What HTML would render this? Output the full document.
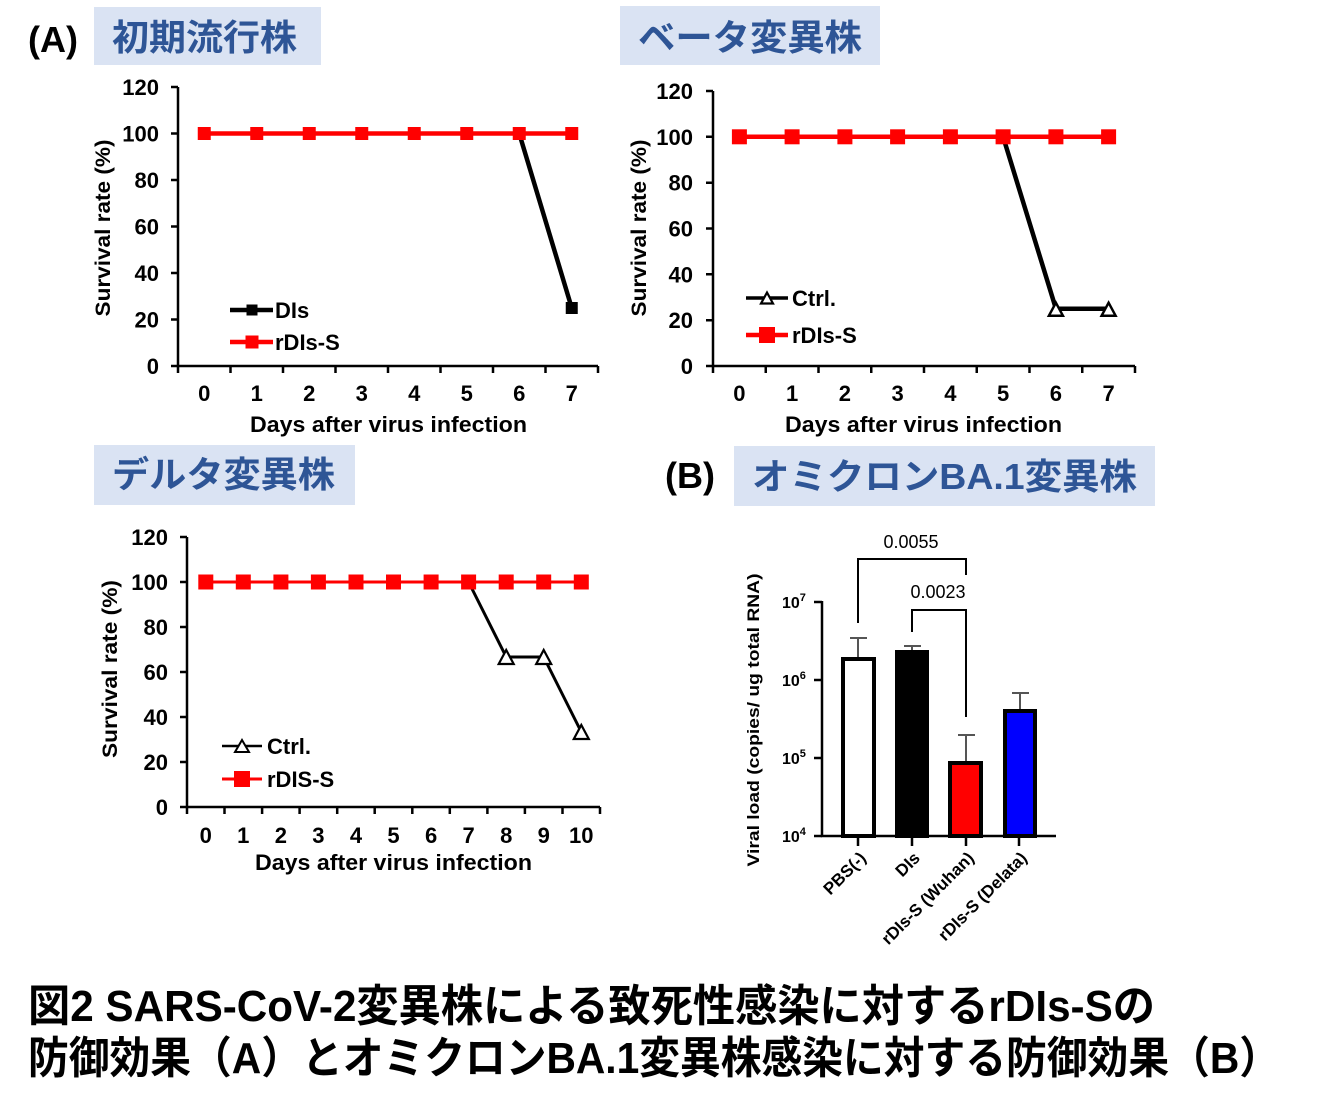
<!DOCTYPE html>
<html><head><meta charset="utf-8"><style>
html,body{margin:0;padding:0;background:#fff;}
svg{display:block}
text{font-family:"Liberation Sans","Noto Sans CJK JP",sans-serif;}
.t{font-weight:bold;font-size:22px;fill:#000}
.ttl{font-weight:bold;font-size:36px;fill:#2e5596}
</style></head><body>
<svg width="1330" height="1110" viewBox="0 0 1330 1110" xmlns="http://www.w3.org/2000/svg">
<rect width="1330" height="1110" fill="#fff"/>

<!-- Titles -->
<text x="28" y="52" font-size="36" font-weight="bold" textLength="50" lengthAdjust="spacingAndGlyphs">(A)</text>
<rect x="94" y="7" width="227" height="58" fill="#dae3f3"/>
<text class="ttl" x="112" y="50" textLength="185" lengthAdjust="spacingAndGlyphs">初期流行株</text>

<rect x="620" y="6" width="260" height="59" fill="#dae3f3"/>
<text class="ttl" x="638" y="50" textLength="224" lengthAdjust="spacingAndGlyphs">ベータ変異株</text>

<rect x="94" y="445" width="261" height="60" fill="#dae3f3"/>
<text class="ttl" x="112" y="487" textLength="223" lengthAdjust="spacingAndGlyphs">デルタ変異株</text>

<text x="665" y="488" font-size="36" font-weight="bold" textLength="50" lengthAdjust="spacingAndGlyphs">(B)</text>
<rect x="734" y="446" width="421" height="60" fill="#dae3f3"/>
<text class="ttl" x="752" y="489" textLength="385" lengthAdjust="spacingAndGlyphs">オミクロンBA.1変異株</text>

<!-- ============ Chart 1 (top-left) ============ -->
<g stroke="#000" stroke-width="2.5" fill="none">
<path d="M178,87 V366 H598"/>
<path d="M171,366H178 M171,319.5H178 M171,273H178 M171,226.5H178 M171,180H178 M171,133.5H178 M171,87H178"/>
<path d="M178,366V373 M230.5,366V373 M283,366V373 M335.5,366V373 M388,366V373 M440.5,366V373 M493,366V373 M545.5,366V373 M598,366V373"/>
</g>
<g text-anchor="end">
<text class="t" x="159" y="374">0</text>
<text class="t" x="159" y="327.5">20</text>
<text class="t" x="159" y="281">40</text>
<text class="t" x="159" y="234.5">60</text>
<text class="t" x="159" y="188">80</text>
<text class="t" x="159" y="141.5">100</text>
<text class="t" x="159" y="95">120</text>
</g>
<g text-anchor="middle">
<text class="t" x="204.25" y="401">0</text>
<text class="t" x="256.75" y="401">1</text>
<text class="t" x="309.25" y="401">2</text>
<text class="t" x="361.75" y="401">3</text>
<text class="t" x="414.25" y="401">4</text>
<text class="t" x="466.75" y="401">5</text>
<text class="t" x="519.25" y="401">6</text>
<text class="t" x="571.75" y="401">7</text>
<text class="t" x="388.5" y="432" textLength="277" lengthAdjust="spacingAndGlyphs">Days after virus infection</text>
</g>
<text transform="translate(103,228) rotate(-90)" x="0" y="7" text-anchor="middle" font-size="21" font-weight="bold" textLength="177" lengthAdjust="spacingAndGlyphs">Survival rate (%)</text>
<path d="M519.25,133.5 L571.75,308" stroke="#000" stroke-width="4.5" fill="none"/>
<rect x="565.75" y="302" width="12" height="12" fill="#000"/>
<path d="M204.25,133.5 H571.75" stroke="#ff0000" stroke-width="4.5"/>
<g fill="#ff0000">
<rect x="197.75" y="127" width="13" height="13"/>
<rect x="250.25" y="127" width="13" height="13"/>
<rect x="302.75" y="127" width="13" height="13"/>
<rect x="355.25" y="127" width="13" height="13"/>
<rect x="407.75" y="127" width="13" height="13"/>
<rect x="460.25" y="127" width="13" height="13"/>
<rect x="512.75" y="127" width="13" height="13"/>
<rect x="565.25" y="127" width="13" height="13"/>
</g>
<path d="M230,310 H273" stroke="#000" stroke-width="4.5"/>
<rect x="246.5" y="304.5" width="11" height="11" fill="#000"/>
<text class="t" x="275" y="318">DIs</text>
<path d="M230,342 H273" stroke="#ff0000" stroke-width="4.5"/>
<rect x="245.5" y="335.5" width="13" height="13" fill="#ff0000"/>
<text class="t" x="275" y="350">rDIs-S</text>

<!-- ============ Chart 2 (top-right) ============ -->
<g stroke="#000" stroke-width="2.5" fill="none">
<path d="M713,91 V366 H1135"/>
<path d="M706,366H713 M706,320.2H713 M706,274.3H713 M706,228.5H713 M706,182.7H713 M706,136.8H713 M706,91H713"/>
<path d="M713,366V373 M765.75,366V373 M818.5,366V373 M871.25,366V373 M924,366V373 M976.75,366V373 M1029.5,366V373 M1082.25,366V373 M1135,366V373"/>
</g>
<g text-anchor="end">
<text class="t" x="693" y="374">0</text>
<text class="t" x="693" y="328.2">20</text>
<text class="t" x="693" y="282.3">40</text>
<text class="t" x="693" y="236.5">60</text>
<text class="t" x="693" y="190.7">80</text>
<text class="t" x="693" y="144.8">100</text>
<text class="t" x="693" y="99">120</text>
</g>
<g text-anchor="middle">
<text class="t" x="739.4" y="401">0</text>
<text class="t" x="792.1" y="401">1</text>
<text class="t" x="844.9" y="401">2</text>
<text class="t" x="897.6" y="401">3</text>
<text class="t" x="950.4" y="401">4</text>
<text class="t" x="1003.1" y="401">5</text>
<text class="t" x="1055.9" y="401">6</text>
<text class="t" x="1108.6" y="401">7</text>
<text class="t" x="923.5" y="432" textLength="277" lengthAdjust="spacingAndGlyphs">Days after virus infection</text>
</g>
<text transform="translate(639,228) rotate(-90)" x="0" y="7" text-anchor="middle" font-size="21" font-weight="bold" textLength="177" lengthAdjust="spacingAndGlyphs">Survival rate (%)</text>
<path d="M1003.1,136.8 L1055.9,308.7 H1108.6" stroke="#000" stroke-width="4.5" fill="none" stroke-linejoin="round"/>
<path d="M739.4,136.8 H1108.6" stroke="#ff0000" stroke-width="4.5"/>
<g fill="#ff0000">
<rect x="731.9" y="129.3" width="15" height="15"/>
<rect x="784.6" y="129.3" width="15" height="15"/>
<rect x="837.4" y="129.3" width="15" height="15"/>
<rect x="890.1" y="129.3" width="15" height="15"/>
<rect x="942.9" y="129.3" width="15" height="15"/>
<rect x="995.6" y="129.3" width="15" height="15"/>
<rect x="1048.4" y="129.3" width="15" height="15"/>
<rect x="1101.1" y="129.3" width="15" height="15"/>
</g>
<g fill="#fff" stroke="#000" stroke-width="2.5" stroke-linejoin="miter">
<path d="M1048.9,315.7 H1062.9 L1055.9,302.7 Z"/>
<path d="M1101.6,315.7 H1115.6 L1108.6,302.7 Z"/>
</g>
<path d="M746,298 H788" stroke="#000" stroke-width="3.5"/>
<path d="M761,303.5 H773 L767,292.5 Z" fill="#fff" stroke="#000" stroke-width="2.2"/>
<text class="t" x="792" y="306">Ctrl.</text>
<path d="M746,335 H788" stroke="#ff0000" stroke-width="4.5"/>
<rect x="759" y="327" width="16" height="16" fill="#ff0000"/>
<text class="t" x="792" y="343">rDIs-S</text>

<!-- ============ Chart 3 (bottom-left) ============ -->
<g stroke="#000" stroke-width="2.5" fill="none">
<path d="M187,537 V807 H600"/>
<path d="M180,807H187 M180,762H187 M180,717H187 M180,672H187 M180,627H187 M180,582H187 M180,537H187"/>
<path d="M187,807V814 M224.5,807V814 M262.1,807V814 M299.6,807V814 M337.2,807V814 M374.7,807V814 M412.3,807V814 M449.8,807V814 M487.4,807V814 M524.9,807V814 M562.5,807V814 M600,807V814"/>
</g>
<g text-anchor="end">
<text class="t" x="168" y="815">0</text>
<text class="t" x="168" y="770">20</text>
<text class="t" x="168" y="725">40</text>
<text class="t" x="168" y="680">60</text>
<text class="t" x="168" y="635">80</text>
<text class="t" x="168" y="590">100</text>
<text class="t" x="168" y="545">120</text>
</g>
<g text-anchor="middle">
<text class="t" x="205.8" y="843">0</text>
<text class="t" x="243.3" y="843">1</text>
<text class="t" x="280.9" y="843">2</text>
<text class="t" x="318.4" y="843">3</text>
<text class="t" x="356" y="843">4</text>
<text class="t" x="393.5" y="843">5</text>
<text class="t" x="431.1" y="843">6</text>
<text class="t" x="468.6" y="843">7</text>
<text class="t" x="506.2" y="843">8</text>
<text class="t" x="543.7" y="843">9</text>
<text class="t" x="581.3" y="843">10</text>
<text class="t" x="393.5" y="870" textLength="277" lengthAdjust="spacingAndGlyphs">Days after virus infection</text>
</g>
<text transform="translate(110,669) rotate(-90)" x="0" y="7" text-anchor="middle" font-size="21" font-weight="bold" textLength="178" lengthAdjust="spacingAndGlyphs">Survival rate (%)</text>
<path d="M468.6,582 L506.2,657 H543.7 L581.3,732" stroke="#000" stroke-width="3" fill="none" stroke-linejoin="round"/>
<path d="M205.8,582 H581.3" stroke="#ff0000" stroke-width="3"/>
<g fill="#ff0000">
<rect x="198.3" y="574.5" width="15" height="15"/>
<rect x="235.8" y="574.5" width="15" height="15"/>
<rect x="273.4" y="574.5" width="15" height="15"/>
<rect x="310.9" y="574.5" width="15" height="15"/>
<rect x="348.5" y="574.5" width="15" height="15"/>
<rect x="386" y="574.5" width="15" height="15"/>
<rect x="423.6" y="574.5" width="15" height="15"/>
<rect x="461.1" y="574.5" width="15" height="15"/>
<rect x="498.7" y="574.5" width="15" height="15"/>
<rect x="536.2" y="574.5" width="15" height="15"/>
<rect x="573.8" y="574.5" width="15" height="15"/>
</g>
<g fill="#fff" stroke="#000" stroke-width="2.2">
<path d="M498.7,664 H513.7 L506.2,650 Z"/>
<path d="M536.2,664 H551.2 L543.7,650 Z"/>
<path d="M573.8,739 H588.8 L581.3,725 Z"/>
</g>
<path d="M222,746 H262" stroke="#000" stroke-width="2.5"/>
<path d="M235,752 H249 L242,740 Z" fill="#fff" stroke="#000" stroke-width="2"/>
<text class="t" x="267" y="754">Ctrl.</text>
<path d="M222,779 H262" stroke="#ff0000" stroke-width="3"/>
<rect x="234" y="771" width="16" height="16" fill="#ff0000"/>
<text class="t" x="267" y="787">rDIS-S</text>

<!-- ============ Bar chart (B) ============ -->
<text transform="translate(753,720) rotate(-90)" x="0" y="6" text-anchor="middle" font-size="17" font-weight="bold" textLength="293" lengthAdjust="spacingAndGlyphs">Viral load (copies/ ug total RNA)</text>
<g font-size="16" font-weight="bold">
<text x="782" y="608">10<tspan font-size="11" dy="-7">7</tspan></text>
<text x="782" y="686">10<tspan font-size="11" dy="-7">6</tspan></text>
<text x="782" y="764">10<tspan font-size="11" dy="-7">5</tspan></text>
<text x="782" y="842">10<tspan font-size="11" dy="-7">4</tspan></text>
</g>
<!-- error bars -->
<g stroke="#555" stroke-width="2" fill="none">
<path d="M858,659 V638 M850,638 H867"/>
<path d="M912,651 V646 M904,646 H921"/>
<path d="M966,762 V735 M958,735 H975"/>
<path d="M1020,711 V693 M1012,693 H1029"/>
</g>
<!-- bars -->
<g stroke="#000" stroke-width="4">
<rect x="843" y="659" width="31" height="177" fill="#fff"/>
<rect x="897" y="652" width="30" height="184" fill="#000"/>
<rect x="950" y="763" width="31" height="73" fill="#ff0000"/>
<rect x="1005" y="711" width="30" height="125" fill="#0000ff"/>
</g>
<g stroke="#000" stroke-width="2.5" fill="none">
<path d="M822,601 V836 H1056"/>
<path d="M814,602H822 M814,680H822 M814,758H822 M814,836H822"/>
<path d="M858,836V846 M912,836V846 M966,836V846 M1019,836V846"/>
</g>
<g stroke="#000" stroke-width="2" fill="none">
<path d="M858,623 V559 H966 V575"/>
<path d="M912,632 V610 H966 V717"/>
</g>
<text x="911" y="548" text-anchor="middle" font-size="18">0.0055</text>
<text x="938" y="598" text-anchor="middle" font-size="18">0.0023</text>
<g font-size="17" font-weight="bold" text-anchor="end">
<text transform="translate(867,859) rotate(-45)">PBS(-)</text>
<text transform="translate(921,859) rotate(-45)">DIs</text>
<text transform="translate(975,859) rotate(-45)">rDIs-S (Wuhan)</text>
<text transform="translate(1028,859) rotate(-45)">rDIs-S (Delata)</text>
</g>

<!-- Caption -->
<text x="28" y="1021" font-size="44" font-weight="bold" textLength="1127" lengthAdjust="spacingAndGlyphs">図2 SARS-CoV-2変異株による致死性感染に対するrDIs-Sの</text>
<text x="28" y="1073" font-size="44" font-weight="bold" textLength="1252" lengthAdjust="spacingAndGlyphs">防御効果（A）とオミクロンBA.1変異株感染に対する防御効果（B）</text>
</svg>
</body></html>
